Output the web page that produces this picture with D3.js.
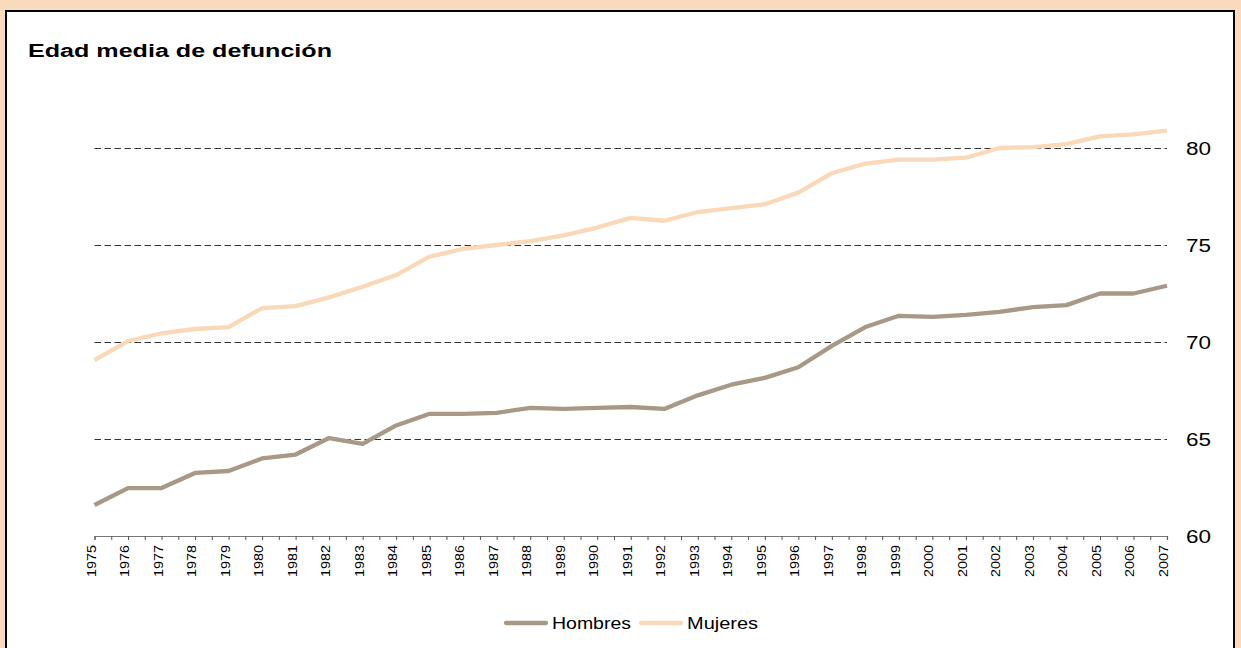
<!DOCTYPE html>
<html><head><meta charset="utf-8">
<script src="https://cdn.jsdelivr.net/npm/d3@7"></script>
<style>
html,body{margin:0;padding:0;background:#F9DABC;}
svg{display:block;}
</style></head>
<body>
<svg id="chart" width="1241" height="648"></svg>
<script>
const years = d3.range(1975, 2008);
const hombres = [61.6,62.47,62.47,63.25,63.35,64.0,64.2,65.05,64.75,65.7,66.3,66.3,66.35,66.6,66.55,66.6,66.65,66.55,67.25,67.8,68.15,68.7,69.8,70.77,71.35,71.3,71.4,71.55,71.8,71.9,72.5,72.5,72.9];
const mujeres = [69.07,70.05,70.45,70.67,70.77,71.75,71.85,72.3,72.85,73.45,74.4,74.8,75.0,75.2,75.5,75.9,76.4,76.25,76.7,76.9,77.1,77.7,78.7,79.2,79.4,79.4,79.5,80.0,80.05,80.2,80.6,80.7,80.9];
const yTicks = [60,65,70,75,80];
const seriesNames = ["Hombres","Mujeres"];
const colors = ["#A89987","#F9D9B8"];
const FONT = "Liberation Sans, Arial, sans-serif";

const svg = d3.select("#chart");
// panel
svg.append("rect").attr("x",6).attr("y",11).attr("width",1228).attr("height",660)
  .attr("fill","#fff").attr("stroke","#000").attr("stroke-width",2);

const x = d3.scaleLinear().domain([1975,2007]).range([94.5,1167]);
const y = d3.scaleLinear().domain([60,80]).range([536,148]);

// gridlines
svg.append("g").selectAll("line").data(yTicks.filter(d=>d>60)).join("line")
  .attr("x1",x(1975)).attr("x2",x(2007))
  .attr("y1",d=>Math.round(y(d))+0.5).attr("y2",d=>Math.round(y(d))+0.5)
  .attr("stroke","#333").attr("stroke-width",1).attr("stroke-dasharray","6.5,3.5");

// right axis labels
svg.append("g").selectAll("text").data(yTicks).join("text")
  .attr("x",1186).attr("y",d=>y(d)+6.5)
  .attr("font-family",FONT).attr("font-size",18)
  .attr("textLength",25).attr("lengthAdjust","spacingAndGlyphs")
  .attr("fill","#000").text(d=>d);

// x axis
const halfTicks = d3.range(1975,2007.01,0.5);
const xAxis = d3.axisBottom(x).tickValues(halfTicks).tickSize(4).tickFormat("");
const gx = svg.append("g").attr("transform","translate(0,536)").call(xAxis);
gx.select(".domain").attr("stroke","#777").attr("stroke-width",1.2);
gx.selectAll(".tick line").attr("stroke","#555");

svg.append("g").selectAll("text").data(years).join("text")
  .attr("transform",d=>`translate(${x(d)+1},545) rotate(-90)`)
  .attr("text-anchor","end")
  .attr("font-family",FONT).attr("font-size",13.5)
  .attr("textLength",32).attr("lengthAdjust","spacingAndGlyphs")
  .attr("fill","#000").text(d=>d);

// lines
const line = d3.line().x((d,i)=>x(years[i])).y(d=>y(d));
[hombres,mujeres].forEach((s,k)=>{
  svg.append("path").datum(s).attr("d",line).attr("fill","none")
    .attr("stroke",colors[k]).attr("stroke-width",4.3).attr("stroke-linejoin","round");
});

// title
svg.append("text").attr("x",28).attr("y",57)
  .attr("font-family",FONT).attr("font-size",18)
  .attr("textLength",304).attr("lengthAdjust","spacingAndGlyphs")
  .attr("font-weight","bold").attr("fill","#000").text("Edad media de defunción");

// legend
const legX = [506,641];
const legW = [79,71];
seriesNames.forEach((n,k)=>{
  svg.append("line").attr("x1",legX[k]).attr("x2",legX[k]+40).attr("y1",623).attr("y2",623)
    .attr("stroke",colors[k]).attr("stroke-width",4.3).attr("stroke-linecap","round");
  svg.append("text").attr("x",legX[k]+46).attr("y",629)
    .attr("font-family",FONT).attr("font-size",16.5)
    .attr("textLength",legW[k]).attr("lengthAdjust","spacingAndGlyphs")
    .attr("fill","#000").text(n);
});
</script>
</body></html>
